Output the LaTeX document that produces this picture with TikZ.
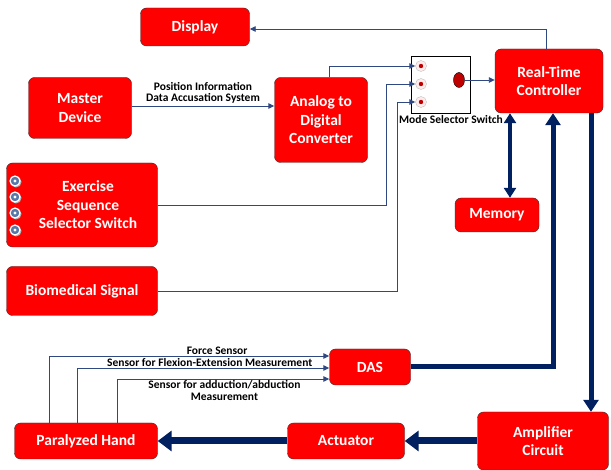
\documentclass[tikz,border=0pt]{standalone}
\usepackage{fontspec}
\setmainfont{Carlito}
\usepackage{xcolor}
\usepackage{tikz}
\usetikzlibrary{arrows.meta,calc}
\usetikzlibrary{positioning,shapes}

\definecolor{boxred}{RGB}{255,0,0}
\definecolor{boxedge}{RGB}{64,40,40}
\definecolor{sigblue}{RGB}{47,72,130}
\definecolor{navy}{RGB}{0,32,96}
\definecolor{knob}{RGB}{88,120,170}

\begin{document}
\begin{tikzpicture}[x=1pt, y=-1pt,
    blk/.style={draw=boxedge, fill=boxred, rounded corners=6pt, text=white,
        font=\bfseries\fontsize{15.5}{18.5}\selectfont, align=center, inner sep=1pt},
    sig/.style={draw=sigblue, line width=0.9pt, -{Triangle[length=6pt,width=5.5pt]}},
    bus/.style={draw=navy, line width=5pt, -{Triangle[length=12pt,width=15pt]}},
    lbl/.style={font=\bfseries\fontsize{11.5}{11.5}\selectfont, text=black, inner sep=1pt, align=center},
    btn/.style={circle, draw=gray!50, fill=red!8, minimum size=11pt, inner sep=0pt}]
    \useasboundingbox (0,0) rectangle (611,470);

    % Nodes
    \node[blk, minimum width=109pt, minimum height=38pt] (disp) at (195,27) {Display};
    \node[blk, minimum width=103pt, minimum height=61pt] (master) at (80,108) {Master\\Device};
    \node[blk, minimum width=93pt, minimum height=85pt] (adc) at (321,120) {Analog to\\Digital\\Converter};
    \node[blk, minimum width=108pt, minimum height=64pt] (rtc) at (549,81) {Real-Time\\Controller};
    \node[blk, minimum width=84pt, minimum height=34pt] (mem) at (497,215) {Memory};
    \node[blk, minimum width=151pt, minimum height=84pt] (exer) at (82,205) {\hspace*{12pt}Exercise\\\hspace*{12pt}Sequence\\\hspace*{12pt}Selector Switch};
    \node[blk, minimum width=151pt, minimum height=49pt] (bio) at (82,291) {Biomedical Signal};
    \node[blk, minimum width=81pt, minimum height=36pt] (das) at (370,367) {DAS};
    \node[blk, minimum width=143pt, minimum height=36pt] (hand) at (86,441) {Paralyzed Hand};
    \node[blk, minimum width=117pt, minimum height=36pt] (act) at (346,441) {Actuator};
    \node[blk, minimum width=131pt, minimum height=58pt] (amp) at (543,441) {Amplifier\\Circuit};

    % Mode selector switch
    \node[draw=black, fill=white, minimum width=59pt, minimum height=57pt, inner sep=0pt] (msw) at (440.5,84.5) {};
    \foreach \i/\yy in {1/66,2/84,3/102} {
        \node[btn] (b\i) at (421,\yy) {};
        \fill[red!75!black] (b\i) circle (2.2);
    }
    \node[ellipse, draw=black, fill=red!75!black, minimum width=11pt, minimum height=15pt, inner sep=0pt] (oval) at (459,80) {};
    \node[lbl] (mswlbl) at (451,120) {Mode Selector Switch};

    % Selector knobs
    \foreach \yy in {181,197,213,230} {
        \fill[gray!60] (16,\yy+1) circle (5.5);
        \filldraw[knob, draw=white, line width=1.2pt] (15,\yy) circle (5);
        \fill[white] (15,\yy) circle (1.6);
    }

    % Signal lines
    \draw[sig] ([yshift=2pt]master.east) -- ([yshift=2pt]master.east -| adc.west)
        node[lbl, midway, above=1pt] (poslbl) {Position Information\\Data Accusation System};
    \draw[sig] ([xshift=8pt]adc.north) |- (b1.west);
    \draw[sig] (exer.east) -- ++(229,0) |- (b2.west);
    \draw[sig] (bio.east) -- ++(240,0) |- (b3.west);
    \draw[sig] (oval.east) -- (oval.east -| rtc.west);
    \draw[sig] ([xshift=-3pt]rtc.north) |- ([yshift=-2pt]disp.east);

    % Sensor lines
    \draw[sig] ([xshift=-37pt]hand.north) |- ([yshift=11pt]das.west)
        node[lbl, pos=0.8, above] (forcelbl) {Force Sensor};
    \draw[sig] ([xshift=-9pt]hand.north) |- ([yshift=-1pt]das.west)
        node[lbl, pos=0.763, above=0pt] (flexlbl) {Sensor for Flexion-Extension Measurement};
    \draw[sig] ([xshift=31pt]hand.north) |- ([yshift=-12pt]das.west)
        node[lbl, pos=0.753, below] (abdlbl) {Sensor for adduction/abduction\\Measurement};

    % Thick arrows
    \draw[navy, line width=4pt, {Triangle[length=10pt,width=12pt]}-{Triangle[length=10pt,width=12pt]}]
        ([xshift=13pt]mem.north) -- ([xshift=13pt]mem.north |- rtc.south);
    \draw[bus] (das.east) -| ([xshift=4pt]rtc.south);
    \draw[bus] ([xshift=42pt]rtc.south) -- ([xshift=42pt]rtc.south |- amp.north);
    \draw[bus, line width=7pt, -{Triangle[length=14pt,width=20pt]}] (amp.west) -- (act.east);
    \draw[bus, line width=7pt, -{Triangle[length=14pt,width=20pt]}] (act.west) -- (hand.east);
\end{tikzpicture}
\end{document}
